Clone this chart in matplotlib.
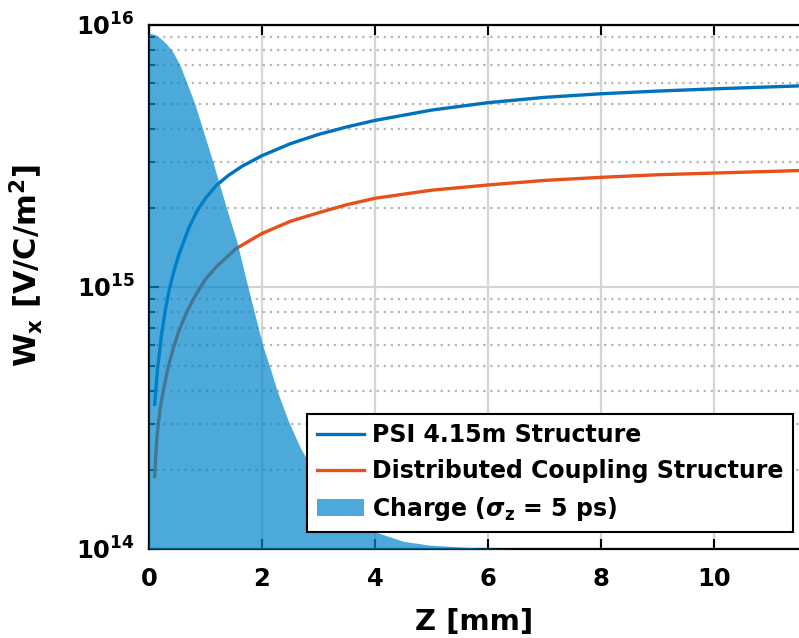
import numpy as np
import matplotlib
matplotlib.use("Agg")
import matplotlib.pyplot as plt
from matplotlib.ticker import LogLocator, NullFormatter

plt.rcParams['font.family'] = ['DejaVu Sans']
plt.rcParams['font.weight'] = 'bold'
plt.rcParams['mathtext.fontset'] = 'dejavusans'

# wakefield curves (z in mm, W_x in V/C/m^2)
psi_z = [0.10, 0.15, 0.22, 0.29, 0.36, 0.45, 0.54, 0.7, 0.85, 1.0, 1.19, 1.4, 1.65, 2.0,
         2.5, 3.0, 3.5, 4.0, 5.0, 6.0, 7.0, 8.0, 9.0, 10.0, 11.5]
psi_w = [3.57e14, 4.85e14, 6.55e14, 8.2e14, 9.8e14, 1.17e15, 1.35e15, 1.67e15, 1.95e15,
         2.18e15, 2.44e15, 2.66e15, 2.89e15, 3.17e15, 3.52e15, 3.82e15, 4.08e15, 4.32e15,
         4.73e15, 5.05e15, 5.29e15, 5.46e15, 5.59e15, 5.70e15, 5.85e15]

dist_z = [0.10, 0.13, 0.16, 0.20, 0.25, 0.34, 0.44, 0.54, 0.66, 0.78, 0.90, 1.0, 1.2, 1.54,
          2.0, 2.5, 3.0, 3.5, 4.0, 5.0, 6.0, 7.0, 8.0, 9.0, 10.0, 11.5]
dist_w = [1.89e14, 2.5e14, 2.95e14, 3.45e14, 4.0e14, 4.95e14, 5.95e14, 6.9e14, 7.95e14,
          8.95e14, 9.9e14, 1.07e15, 1.20e15, 1.40e15, 1.60e15, 1.78e15, 1.92e15, 2.06e15,
          2.18e15, 2.34e15, 2.45e15, 2.55e15, 2.62e15, 2.68e15, 2.72e15, 2.78e15]

# charge profile (scaled to the plot), sigma_z = 5 ps
charge_z = [0.0, 0.1, 0.2, 0.3, 0.42, 0.55, 0.67, 0.81, 0.95, 1.13, 1.37, 1.55, 1.75, 2.01,
            2.13, 2.27, 2.46, 2.67, 2.93, 3.2, 3.5, 3.96, 4.5, 4.96, 5.8, 6.5, 11.5]
charge_w = [9.3e15, 9.2e15, 8.9e15, 8.5e15, 7.9e15, 7.0e15, 6.0e15, 5.0e15, 4.0e15, 3.0e15,
            2.0e15, 1.5e15, 1.0e15, 6.0e14, 5.0e14, 4.0e14, 3.1e14, 2.45e14, 1.95e14, 1.62e14,
            1.38e14, 1.17e14, 1.07e14, 1.035e14, 1.01e14, 1.0e14, 1.0e14]

xticks = [0, 2, 4, 6, 8, 10]

fig = plt.figure(figsize=(7.99, 6.38), dpi=100)
ax = fig.add_axes([0.1865, 0.1395, 0.8135, 0.8215])

ax.plot(psi_z, psi_w, color='#0072BD', lw=2.4, label='PSI 4.15m Structure', zorder=3)
ax.plot(dist_z, dist_w, color='#E8501A', lw=2.4, label='Distributed Coupling Structure', zorder=3)
ax.fill_between(charge_z, 1e14, charge_w, color='#0085CB', alpha=0.7, lw=0,
                label=r'Charge ($\sigma_\mathbf{z}$ = 5 ps)', zorder=4)

ax.set_yscale('log')
ax.set_xlim(0, 11.5)
ax.set_ylim(1e14, 1e16)
ax.set_xticks(xticks)
ax.set_xticklabels([str(t) for t in xticks])
ax.set_yticks([1e14, 1e15, 1e16])
ax.set_yticklabels([r'$\mathbf{10^{14}}$', r'$\mathbf{10^{15}}$', r'$\mathbf{10^{16}}$'])
ax.yaxis.set_minor_locator(LogLocator(base=10, subs=np.arange(2, 10), numticks=20))
ax.yaxis.set_minor_formatter(NullFormatter())

ax.grid(True, which='major', color='#d4d4d4', lw=1.6, ls='-', zorder=0)
ax.grid(True, which='minor', axis='y', color='#b4b4b4', lw=1.6, ls=(0, (1, 2.2)), zorder=0)
ax.set_axisbelow(True)

ax.tick_params(axis='both', which='major', direction='in', length=7, width=1.5,
               labelsize=17.5, top=True, right=False)
ax.tick_params(axis='x', which='major', pad=13)
ax.tick_params(axis='y', which='major', pad=10)
ax.tick_params(axis='y', which='minor', direction='in', length=4, width=1.5, right=False)
for side in ['left', 'bottom', 'top']:
    ax.spines[side].set_linewidth(1.6)
ax.spines['right'].set_visible(False)

ax.set_xlabel('Z [mm]', fontsize=21, fontweight='bold', labelpad=12)
ax.set_ylabel(r'W$_\mathbf{x}$ [V/C/m$^\mathbf{2}$]', fontsize=22, fontweight='bold')
ax.yaxis.set_label_coords(-0.16, 0.54)

leg = ax.legend(loc='lower right', bbox_to_anchor=(0.991, 0.032), borderaxespad=0,
                fontsize=17, fancybox=False, framealpha=1, edgecolor='black',
                handlelength=2.0, handletextpad=0.35, labelspacing=0.5, borderpad=0.4)
leg.get_frame().set_linewidth(1.5)
leg.set_zorder(10)

fig.savefig('out.png', dpi=100)
